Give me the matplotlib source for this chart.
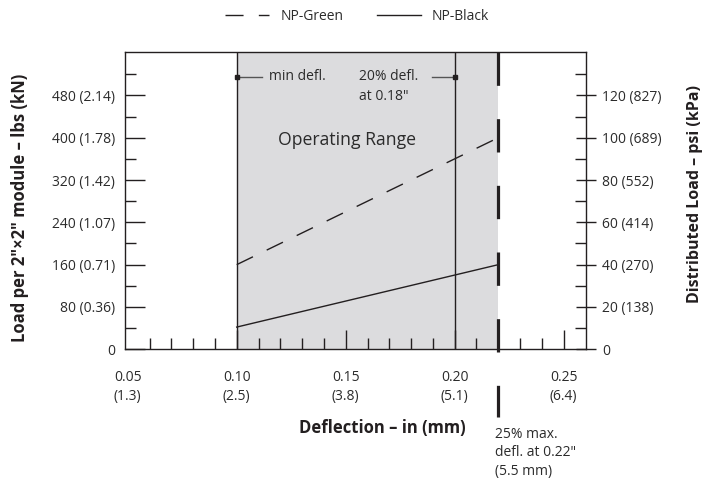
import matplotlib
matplotlib.use("Agg")
import matplotlib.pyplot as plt
from matplotlib.ticker import FixedLocator, FixedFormatter

plt.rcParams['font.family'] = ['Open Sans', 'DejaVu Sans']
plt.rcParams['lines.scale_dashes'] = False

# ---- data ----
deflection = [0.10, 0.22]           # in
np_green = [160, 400]               # lbs per 2"x2" module
np_black = [42, 160]
min_defl = 0.10
defl_20 = 0.20
max_defl = 0.22
x_ticks = [0.05, 0.10, 0.15, 0.20, 0.25]
x_ticklabels = ["0.05\n(1.3)", "0.10\n(2.5)", "0.15\n(3.8)", "0.20\n(5.1)", "0.25\n(6.4)"]
x_minor = [0.06, 0.07, 0.08, 0.09, 0.11, 0.12, 0.13, 0.14, 0.16, 0.17, 0.18, 0.19,
           0.21, 0.22, 0.23, 0.24]
y_ticks = [0, 80, 160, 240, 320, 400, 480]
y_ticklabels = ["0", "80 (0.36)", "160 (0.71)", "240 (1.07)", "320 (1.42)", "400 (1.78)", "480 (2.14)"]
y_minor = [40, 120, 200, 280, 360, 440, 520]
psi_ticks = [0, 20, 40, 60, 80, 100, 120]
psi_ticklabels = ["0", "20 (138)", "40 (270)", "60 (414)", "80 (552)", "100 (689)", "120 (827)"]
psi_minor = [10, 30, 50, 70, 90, 110, 130]

W, H = 712, 479
fig = plt.figure(figsize=(W / 100, H / 100), dpi=100)
L, R, T, B = 125, 586, 52, 349.3
ax = fig.add_axes([L / W, 1 - B / H, (R - L) / W, (B - T) / H])

ink = '#231f20'
txt = '#2b2b2b'
ymax = 562
ax.set_xlim(0.04876, 0.26023)
ax.set_ylim(0, ymax)

# operating range
ax.axvspan(min_defl, max_defl, color='#dcdcde', lw=0, zorder=0)
ax.axvline(min_defl, color=ink, lw=1.0, zorder=2)
ax.axvline(defl_20, color=ink, lw=1.0, zorder=2)

# data lines
lg, = ax.plot(deflection, np_green, color=ink, lw=1.0, linestyle=(0, (13, 11)), label='NP-Green', zorder=3)
lb, = ax.plot(deflection, np_black, color=ink, lw=1.0, label='NP-Black', zorder=3)

# max deflection thick dashed line (extends below axis)
ax.plot([max_defl, max_defl], [ymax, -128], color=ink, lw=2.3, linestyle=(0, (24, 24)),
        solid_capstyle='butt', dash_capstyle='butt', clip_on=False, zorder=4)

# spines
for s in ax.spines.values():
    s.set_color(ink)
    s.set_linewidth(1.0)

# x ticks
ax.xaxis.set_major_locator(FixedLocator(x_ticks))
ax.xaxis.set_major_formatter(FixedFormatter(x_ticklabels))
ax.xaxis.set_minor_locator(FixedLocator(x_minor))
ax.tick_params(axis='x', which='major', direction='in', length=13.7, width=1.0, color=ink,
               labelsize=10, labelcolor=txt, pad=15)
ax.tick_params(axis='x', which='minor', direction='in', length=8, width=1.0, color=ink)
for t in ax.get_xticklabels():
    t.set_linespacing(1.35)
ax.xaxis.get_major_ticks()[0].tick1line.set_visible(False)

# left y ticks
ax.yaxis.set_major_locator(FixedLocator(y_ticks))
ax.yaxis.set_major_formatter(FixedFormatter(y_ticklabels))
ax.yaxis.set_minor_locator(FixedLocator(y_minor))
ax.tick_params(axis='y', which='major', direction='in', length=14.4, width=1.0, color=ink,
               labelsize=10, labelcolor=txt, pad=7)
ax.tick_params(axis='y', which='minor', direction='in', length=8, width=1.0, color=ink)

# right axis
ax2 = ax.twinx()
ax2.set_ylim(0, ymax / 4)
ax2.yaxis.set_major_locator(FixedLocator(psi_ticks))
ax2.yaxis.set_major_formatter(FixedFormatter(psi_ticklabels))
ax2.yaxis.set_minor_locator(FixedLocator(psi_minor))
ax2.tick_params(axis='y', which='major', direction='inout', length=15, width=1.0, color=ink,
                labelsize=10, labelcolor=txt, pad=4)
ax2.tick_params(axis='y', which='minor', direction='in', length=8, width=1.0, color=ink)
for s in ax2.spines.values():
    s.set_visible(False)

# annotations
ax.plot([min_defl, 0.1114], [515, 515], color='#555555', lw=1.0, zorder=5)
ax.plot([min_defl], [515], marker='s', ms=3, color=ink, zorder=6)
ax.text(0.1147, 515, "min defl.", fontsize=10, color=txt, va='center', ha='left')
ax.plot([0.1895, defl_20], [515, 515], color='#555555', lw=1.0, zorder=5)
ax.plot([defl_20], [515], marker='s', ms=3, color=ink, zorder=6)
ax.text(0.1562, 515, "20% defl.", fontsize=10, color=txt, va='center', ha='left')
ax.text(0.1562, 478, "at 0.18\"", fontsize=10, color=txt, va='center', ha='left')
ax.text(0.1505, 395, "Operating Range", fontsize=12.7, color=txt, va='center', ha='center')
ax.text(0.2183, -147, "25% max.\ndefl. at 0.22\"\n(5.5 mm)", fontsize=10, color=txt,
        va='top', ha='left', linespacing=1.3)

# axis labels
fig.text(20 / W, 1 - 207.5 / H, "Load per 2″×2″ module – lbs (kN)", rotation=90, fontsize=12,
         fontweight='bold', color=ink, ha='center', va='center')
fig.text(695 / W, 1 - 194 / H, "Distributed Load – psi (kPa)", rotation=90, fontsize=11.5,
         fontweight='bold', color=ink, ha='center', va='center')
fig.text(382.5 / W, 1 - 428 / H, "Deflection – in (mm)", fontsize=12, fontweight='bold',
         color=ink, ha='center', va='center')

# legend
fig.legend(handles=[lg, lb], labels=['NP-Green', 'NP-Black'], loc='center',
           bbox_to_anchor=(357 / W, 1 - 16 / H), ncol=2, frameon=False, fontsize=10,
           handlelength=3.2, handletextpad=0.8, columnspacing=2.4, labelcolor=txt)

fig.savefig("out.png", dpi=100)
